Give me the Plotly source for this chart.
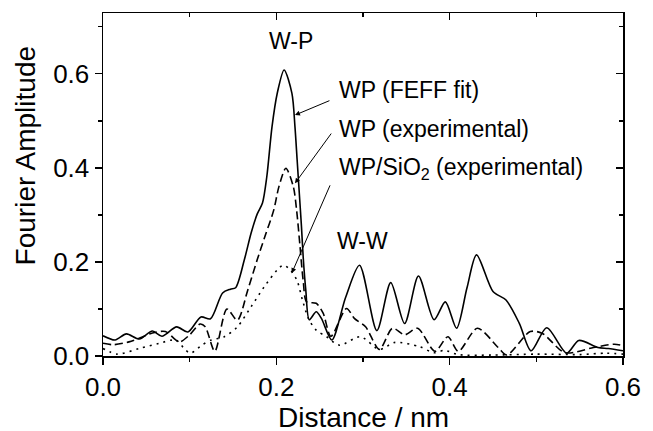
import plotly.graph_objects as go

# ---- data ----
fit_x = [0.000, 0.014, 0.027, 0.042, 0.057, 0.068, 0.085, 0.098, 0.113, 0.124,
         0.138, 0.147, 0.153, 0.163, 0.171, 0.178, 0.184, 0.189, 0.195, 0.201,
         0.209, 0.218, 0.2215, 0.224, 0.2265, 0.229, 0.231, 0.234, 0.238, 0.246,
         0.252, 0.264, 0.280, 0.296, 0.316, 0.332, 0.348, 0.364, 0.382, 0.395,
         0.408, 0.420, 0.431, 0.450, 0.465, 0.4805, 0.494, 0.512, 0.535, 0.549,
         0.571, 0.583, 0.600]
fit_y = [0.043, 0.034, 0.047, 0.036, 0.053, 0.042, 0.062, 0.051, 0.083, 0.079,
         0.134, 0.142, 0.145, 0.204, 0.262, 0.302, 0.325, 0.381, 0.487, 0.558,
         0.608, 0.558, 0.487, 0.417, 0.346, 0.275, 0.210, 0.140, 0.077, 0.094,
         0.080, 0.034, 0.125, 0.193, 0.054, 0.156, 0.069, 0.170, 0.077, 0.115,
         0.059, 0.145, 0.215, 0.137, 0.119, 0.069, 0.011, 0.060, 0.006, 0.033,
         0.018, 0.016, 0.011]

exp_x = [0.000, 0.012, 0.030, 0.046, 0.057, 0.072, 0.088, 0.100, 0.112, 0.118,
         0.129, 0.143, 0.155, 0.167, 0.178, 0.187, 0.197, 0.203, 0.211, 0.2196,
         0.2234, 0.227, 0.231, 0.235, 0.246, 0.254, 0.263, 0.281, 0.290, 0.303,
         0.319, 0.334, 0.348, 0.363, 0.383, 0.398, 0.410, 0.432, 0.456, 0.466,
         0.493, 0.507, 0.533, 0.566, 0.590, 0.600]
exp_y = [0.027, 0.024, 0.030, 0.041, 0.049, 0.052, 0.030, 0.045, 0.068, 0.062,
         0.010, 0.100, 0.076, 0.140, 0.205, 0.255, 0.310, 0.360, 0.399, 0.360,
         0.310, 0.240, 0.160, 0.115, 0.112, 0.091, 0.042, 0.101, 0.080, 0.062,
         0.014, 0.059, 0.045, 0.059, 0.010, 0.041, 0.010, 0.059, 0.018, 0.002,
         0.052, 0.048, 0.007, 0.018, 0.025, 0.022]

sio_x = [0.000, 0.016, 0.042, 0.065, 0.084, 0.095, 0.101, 0.114, 0.125, 0.140,
         0.155, 0.171, 0.186, 0.201, 0.208, 0.216, 0.224, 0.230, 0.237, 0.246,
         0.258, 0.273, 0.297, 0.319, 0.337, 0.365, 0.382, 0.394, 0.410, 0.450,
         0.500, 0.550, 0.580, 0.600]
sio_y = [0.016, 0.004, 0.016, 0.027, 0.034, 0.013, 0.006, 0.023, 0.034, 0.041,
         0.062, 0.105, 0.147, 0.183, 0.193, 0.183, 0.160, 0.120, 0.080, 0.055,
         0.041, 0.023, 0.041, 0.014, 0.029, 0.020, 0.007, 0.012, 0.003, 0.002,
         0.004, 0.003, 0.006, 0.004]

x_ticks = [0.0, 0.2, 0.4, 0.6]
y_ticks = [0.0, 0.2, 0.4, 0.6]
x_range = [0.0, 0.6]
y_range = [0.0, 0.729]

FONT = "Arial, Liberation Sans, Helvetica, sans-serif"

fig = go.Figure()
fig.add_trace(go.Scatter(x=fit_x, y=fit_y, mode="lines",
                         line=dict(color="black", width=1.6, shape="spline", smoothing=0.8),
                         showlegend=False))
fig.add_trace(go.Scatter(x=exp_x, y=exp_y, mode="lines",
                         line=dict(color="black", width=1.6, dash="8px,4px", shape="spline", smoothing=0.8),
                         showlegend=False))
fig.add_trace(go.Scatter(x=sio_x, y=sio_y, mode="lines",
                         line=dict(color="black", width=1.6, dash="2px,5px", shape="spline", smoothing=0.8),
                         showlegend=False))
# invisible trace to anchor mirror axes
fig.add_trace(go.Scatter(x=x_range, y=y_range, mode="markers", xaxis="x2", yaxis="y2",
                         marker=dict(opacity=0), hoverinfo="skip", showlegend=False))

axis_common = dict(showline=True, linecolor="black", linewidth=1.5, showgrid=False,
                   zeroline=False, tickcolor="black", tickwidth=1.5)

fig.update_layout(
    width=653, height=431,
    margin=dict(l=103, r=21, t=13, b=75),
    paper_bgcolor="white", plot_bgcolor="white",
    font=dict(family=FONT, color="black"),
    hovermode=False,
    xaxis=dict(range=x_range, tickvals=x_ticks, tickformat=".1f", ticks="outside", ticklen=7,
               tickfont=dict(size=26, family=FONT),
               minor=dict(dtick=0.1, tick0=0, ticks="outside", ticklen=4, tickcolor="black", tickwidth=1.5),
               **axis_common),
    yaxis=dict(range=y_range, tickvals=y_ticks, tickformat=".1f", ticks="outside", ticklen=7,
               tickfont=dict(size=26, family=FONT),
               minor=dict(dtick=0.1, tick0=0, ticks="outside", ticklen=4, tickcolor="black", tickwidth=1.5),
               **axis_common),
    xaxis2=dict(range=x_range, overlaying="x", side="top", anchor="y", tickvals=x_ticks,
                ticks="inside", ticklen=7, showticklabels=False,
                minor=dict(dtick=0.1, tick0=0, ticks="inside", ticklen=4, tickcolor="black", tickwidth=1.5),
                **axis_common),
    yaxis2=dict(range=y_range, overlaying="y", side="right", anchor="x", tickvals=y_ticks,
                ticks="inside", ticklen=7, showticklabels=False,
                minor=dict(dtick=0.1, tick0=0, ticks="inside", ticklen=4, tickcolor="black", tickwidth=1.5),
                **axis_common),
)

ann_font = dict(size=23, family=FONT, color="black")
annotations = [
    # axis titles
    dict(text="Distance / nm", xref="paper", yref="paper", x=0.5, y=-0.178,
         xanchor="center", yanchor="middle", showarrow=False, font=dict(size=28, family=FONT)),
    dict(text="Fourier Amplitude", xref="paper", yref="paper", x=-0.1493, y=0.583,
         xanchor="center", yanchor="middle", textangle=-90, showarrow=False,
         font=dict(size=28, family=FONT)),
    # labels
    dict(text="W-P", x=0.2166, y=0.6695, xref="x", yref="y", showarrow=False,
         xanchor="center", yanchor="middle", font=ann_font),
    dict(text="W-W", x=0.299, y=0.2434, xref="x", yref="y", showarrow=False,
         xanchor="center", yanchor="middle", font=ann_font),
    dict(text="WP (FEFF fit)", x=0.2696, y=0.565, xref="x", yref="y", showarrow=False,
         xanchor="left", yanchor="middle", font=ann_font),
    dict(text="WP (experimental)", x=0.2696, y=0.4825, xref="x", yref="y", showarrow=False,
         xanchor="left", yanchor="middle", font=ann_font),
    dict(text="WP/SiO<sub>2</sub> (experimental)", x=0.2696, y=0.3985, xref="x", yref="y",
         showarrow=False, xanchor="left", yanchor="middle", font=ann_font),
]
# pointer arrows (head on curve, tail at label)
arrow_heads = [(0.2215, 0.512), (0.2215, 0.367), (0.2178, 0.176)]
arrow_tails = [(0.263, 0.544), (0.265, 0.477), (0.263, 0.367)]
for (hx, hy), (tx, ty) in zip(arrow_heads, arrow_tails):
    annotations.append(dict(text=" ", x=hx, y=hy, ax=tx, ay=ty, xref="x", yref="y",
                            axref="x", ayref="y", showarrow=True, arrowhead=2, arrowsize=1,
                            arrowwidth=1, arrowcolor="black", font=dict(size=1)))
fig.update_layout(annotations=annotations)

fig.write_html("out.html", config={"displayModeBar": False, "staticPlot": True},
               post_script="document.body.style.margin='0';document.body.style.overflow='hidden';")
